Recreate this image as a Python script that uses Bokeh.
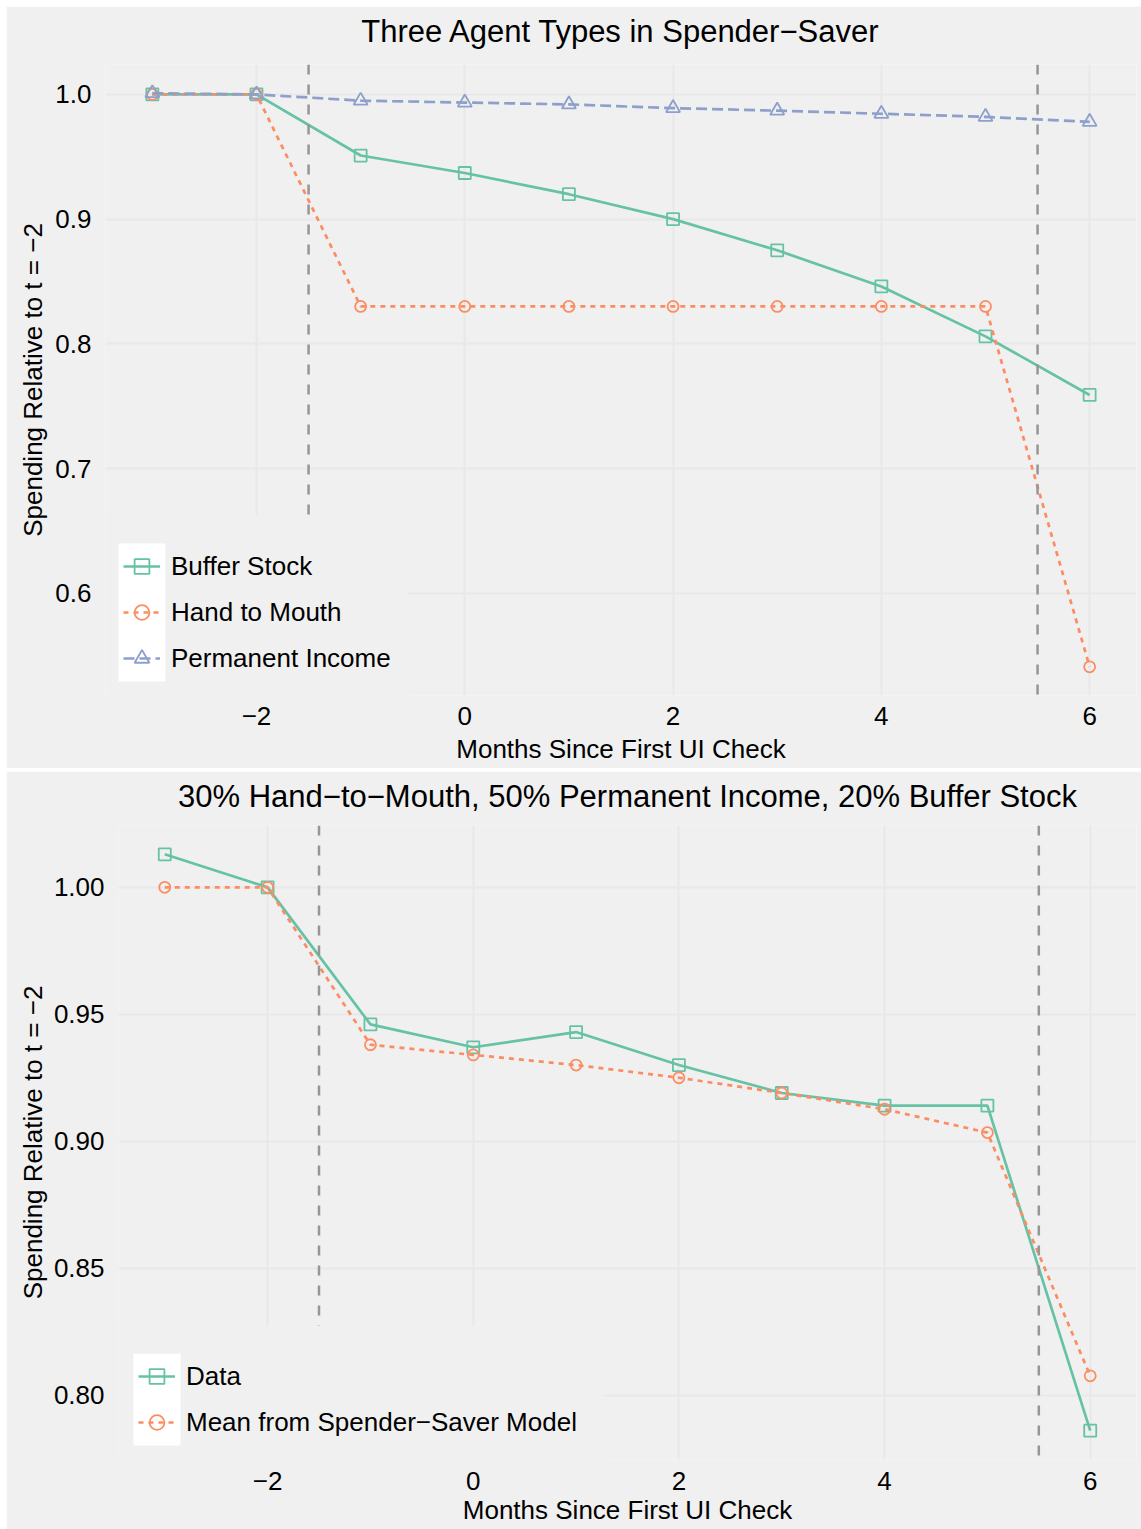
from bokeh.plotting import figure
from bokeh.models import Range1d, FixedTicker, Span, BoxAnnotation, Legend, LegendItem, Title
from bokeh.embed import file_html
from bokeh.resources import INLINE

# ---------------- data ----------------
months = [-3, -2, -1, 0, 1, 2, 3, 4, 5, 6]
buffer_stock = [1.0, 1.0, 0.951, 0.937, 0.920, 0.900, 0.875, 0.846, 0.806, 0.759]
hand_to_mouth = [1.0, 1.0, 0.830, 0.830, 0.830, 0.830, 0.830, 0.830, 0.830, 0.541]
permanent_income = [1.001, 1.0, 0.995, 0.9935, 0.992, 0.989, 0.987, 0.9845, 0.982, 0.978]
data_series = [1.013, 1.0, 0.946, 0.937, 0.943, 0.930, 0.919, 0.914, 0.914, 0.786]
model_mean = [1.0, 1.0, 0.938, 0.934, 0.930, 0.925, 0.919, 0.9126, 0.9034, 0.8076]
event_lines = [-1.5, 5.5]

x_ticks = [-2, 0, 2, 4, 6]
x_tick_labels = ["\u22122", "0", "2", "4", "6"]
top_y_ticks = [0.6, 0.7, 0.8, 0.9, 1.0]
top_y_tick_labels = ["0.6", "0.7", "0.8", "0.9", "1.0"]
bottom_y_ticks = [0.80, 0.85, 0.90, 0.95, 1.00]
bottom_y_tick_labels = ["0.80", "0.85", "0.90", "0.95", "1.00"]

top_title = "Three Agent Types in Spender\u2212Saver"
bottom_title = "30% Hand\u2212to\u2212Mouth, 50% Permanent Income, 20% Buffer Stock"
x_label = "Months Since First UI Check"
y_label = "Spending Relative to t = \u22122"

# ---------------- style ----------------
FONT = "Liberation Sans"
BG = "#f0f0f0"
GRID = "#e8e8e8"
GREEN, ORANGE, BLUE = "#66c2a5", "#fc8d62", "#8da0cb"
VLINE = "#969696"
W = 1135
GLYPH_W = 37
ITEM_H = 46


def padded(lo, hi, frac=0.05):
    d = (hi - lo) * frac
    return lo - d, hi + d


def make_panel(title, series, y_ticks, y_labels, height, borders, title_gap,
               y_label_standoff, x_standoffs, legend_dx, legend_dy, cover_px, margin):
    bl, br, bt, bb = borders
    all_y = [v for s in series for v in s[1]]
    x0, x1 = padded(min(months), max(months))
    y0, y1 = padded(min(all_y), max(all_y))
    fw = W - bl - br
    fh = height - bt - bb

    def dx(px):
        return x0 + px * (x1 - x0) / fw

    def dy(px):
        return y0 + px * (y1 - y0) / fh

    p = figure(width=W, height=height, output_backend="svg", toolbar_location=None,
               title=title,
               x_range=Range1d(x0, x1), y_range=Range1d(y0, y1),
               min_border_left=bl, min_border_right=br, min_border_top=bt, min_border_bottom=bb,
               background_fill_color=BG, border_fill_color=BG, outline_line_color=None,
               margin=margin)

    p.title.text_font = FONT
    p.title.text_font_size = "31px"
    p.title.text_font_style = "normal"
    p.title.text_color = "black"
    p.title.align = "center"
    p.title.vertical_align = "top"
    p.title.standoff = 14
    # empty spacer between the title and the plotting area
    p.add_layout(Title(text=" ", text_font_size="1px", standoff=title_gap), "above")

    p.xaxis.ticker = FixedTicker(ticks=x_ticks)
    p.xaxis.major_label_overrides = dict(zip(x_ticks, x_tick_labels))
    p.yaxis.ticker = FixedTicker(ticks=y_ticks)
    p.yaxis.major_label_overrides = dict(zip(y_ticks, y_labels))
    p.xaxis.axis_label = x_label
    p.yaxis.axis_label = y_label
    for ax in (p.xaxis, p.yaxis):
        ax.axis_line_color = None
        ax.major_tick_line_color = None
        ax.minor_tick_line_color = None
        ax.major_label_text_font = FONT
        ax.major_label_text_font_size = "26px"
        ax.major_label_text_color = "black"
        ax.axis_label_text_font = FONT
        ax.axis_label_text_font_size = "26px"
        ax.axis_label_text_font_style = "normal"
        ax.axis_label_text_color = "black"
    p.xaxis.major_label_standoff = x_standoffs[0]
    p.xaxis.axis_label_standoff = x_standoffs[1]
    p.yaxis.major_label_standoff = 8
    p.yaxis.axis_label_standoff = y_label_standoff

    p.grid.grid_line_color = GRID
    p.grid.grid_line_width = 2

    items = []
    for label, vals, color, dash, marker, msize in series:
        lr = p.line(months, vals, line_color=color, line_width=2.7, line_dash=dash)
        sr = p.scatter(months, vals, marker=marker, size=msize, line_color=color,
                       line_width=1.8, fill_color=None)
        items.append(LegendItem(label=label, renderers=[lr, sr]))

    for loc in event_lines:
        p.add_layout(Span(location=loc, dimension="height", line_color=VLINE,
                          line_width=2.5, line_dash="10 10"))

    # legend background (same colour as panel) hiding the grid below the legend
    cover_right, cover_top = cover_px
    p.add_layout(BoxAnnotation(left=x0, right=dx(cover_right), bottom=y0, top=dy(cover_top),
                               fill_color=BG, fill_alpha=1, line_color=None))
    # white key area
    n = len(series)
    p.add_layout(BoxAnnotation(left=dx(legend_dx - 5), right=dx(legend_dx + GLYPH_W + 5),
                               bottom=dy(legend_dy), top=dy(legend_dy + n * ITEM_H),
                               fill_color="white", fill_alpha=1, line_color=None))

    legend = Legend(items=items, location=(legend_dx, legend_dy), padding=0, margin=0,
                    spacing=0, glyph_width=GLYPH_W, glyph_height=ITEM_H, label_height=ITEM_H,
                    label_standoff=11, label_text_font=FONT, label_text_font_size="26px",
                    label_text_color="black", background_fill_alpha=0, border_line_color=None)
    p.add_layout(legend)
    return p


p1 = make_panel(
    top_title,
    [("Buffer Stock", buffer_stock, GREEN, "solid", "square", 12),
     ("Hand to Mouth", hand_to_mouth, ORANGE, "5 5", "circle", 11),
     ("Permanent Income", permanent_income, BLUE, "11 5", "triangle", 14)],
    top_y_ticks, top_y_tick_labels, 762, (99, 5, 58, 73), 4, 4, (5, 6),
    18, 14, (303, 180), (6, 0, 0, 6))

p2 = make_panel(
    bottom_title,
    [("Data", data_series, GREEN, "solid", "square", 12),
     ("Mean from Spender\u2212Saver Model", model_mean, ORANGE, "5 5", "circle", 11)],
    bottom_y_ticks, bottom_y_tick_labels, 758, (112, 5, 53, 70), 0, 3, (6, 2),
    20, 14, (485, 134), (3, 0, 0, 6))

open("out.html", "w").write(file_html([p1, p2], INLINE))
